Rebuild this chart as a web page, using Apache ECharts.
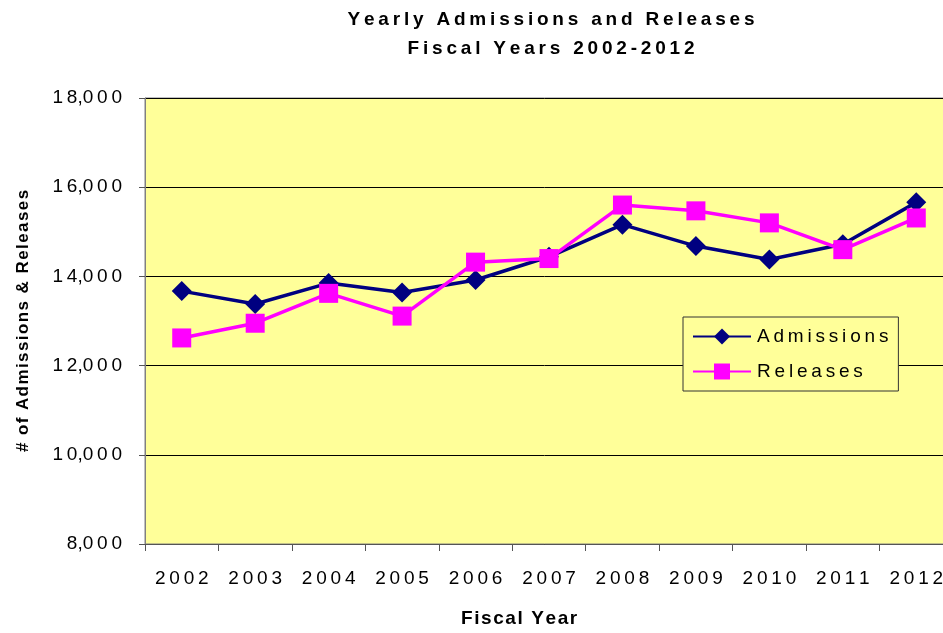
<!DOCTYPE html>
<html>
<head>
<meta charset="utf-8">
<title>Yearly Admissions and Releases</title>
<script src="https://cdn.jsdelivr.net/npm/echarts@6/dist/echarts.min.js"></script>
<style>
  html, body { margin: 0; padding: 0; background: #fff; }
  #chart { width: 943px; height: 633px; }
</style>
</head>
<body>
<div id="chart"></div>
<script>
// fiscal years on the x axis
const years = ['2002', '2003', '2004', '2005', '2006', '2007', '2008', '2009', '2010', '2011', '2012']

// values
const admissions = [13670, 13380, 13850, 13640, 13920, 14440, 15160, 14680, 14380, 14720, 15660]
const releases = [12620, 12950, 13620, 13110, 14320, 14400, 15600, 15470, 15200, 14600, 15310]

const font = 'Arial, "Liberation Sans", sans-serif'

// the original text is set wide, so put a thin space between letters
const THIN = '\u2009'
const HAIR = '\u200A'
const spaced = (s, sp) => s.split('').join(sp || THIN)

// 18,000 -> digits spaced, no extra gap around the comma
const fmtThousands = v => v.toLocaleString('en-US').split(',').map(p => spaced(p)).join(',')

const chart = echarts.init(document.getElementById('chart'))

chart.setOption({
  backgroundColor: '#ffffff',
  animation: false,
  textStyle: { fontFamily: font },
  title: {
    text: spaced('Yearly Admissions and Releases') + '\n' + spaced('Fiscal Years 2002-2012'),
    left: 546,
    top: 0,
    textAlign: 'center',
    textStyle: {
      fontFamily: font,
      fontSize: 19,
      fontWeight: 'bold',
      color: '#000',
      lineHeight: 29
    }
  },
  grid: {
    left: 145,
    width: 808,
    top: 98,
    bottom: 89,
    outerBoundsMode: 'none',
    show: true,
    backgroundColor: '#FFFF99',
    borderColor: '#808080',
    borderWidth: 1
  },
  legend: {
    orient: 'vertical',
    left: 683,
    top: 317,
    padding: [10, 10, 10, 9],
    itemGap: 16,
    itemWidth: 58,
    itemHeight: 20,
    backgroundColor: '#FFFF99',
    borderColor: '#333',
    borderWidth: 1,
    formatter: name => spaced(name),
    textStyle: { fontFamily: font, fontSize: 19, color: '#000', padding: [0, 0, 0, 1] },
    data: ['Admissions', 'Releases']
  },
  xAxis: {
    type: 'category',
    data: years,
    boundaryGap: true,
    axisLine: { lineStyle: { color: '#555', width: 1 } },
    axisTick: { show: true, length: 7, lineStyle: { color: '#555' } },
    axisLabel: {
      fontFamily: font,
      fontSize: 19,
      color: '#000',
      margin: 25,
      formatter: v => spaced(v)
    },
    splitLine: { show: false }
  },
  yAxis: {
    type: 'value',
    min: 8000,
    max: 18000,
    interval: 2000,
    name: spaced('# of Admissions & Releases', HAIR),
    nameLocation: 'middle',
    nameGap: 113,
    nameTextStyle: { fontFamily: font, fontSize: 17, fontWeight: 'bold', color: '#000' },
    axisLine: { show: true, lineStyle: { color: '#808080', width: 1 } },
    axisTick: { show: true, length: 6, lineStyle: { color: '#555' } },
    axisLabel: {
      fontFamily: font,
      fontSize: 19,
      color: '#000',
      margin: 23,
      formatter: fmtThousands
    },
    splitLine: { show: true, lineStyle: { color: '#000', width: 1 } }
  },
  graphic: [{
    type: 'text',
    left: 461,
    top: 609,
    style: {
      text: spaced('Fiscal Year', HAIR),
      font: 'bold 19px ' + font,
      fill: '#000'
    }
  }],
  series: [
    {
      name: 'Admissions',
      type: 'line',
      data: admissions,
      symbol: 'diamond',
      symbolSize: 20,
      lineStyle: { color: '#000080', width: 3.5 },
      itemStyle: { color: '#000080' },
      z: 2
    },
    {
      name: 'Releases',
      type: 'line',
      data: releases,
      symbol: 'rect',
      symbolSize: 19,
      lineStyle: { color: '#FF00FF', width: 3.5 },
      itemStyle: { color: '#FF00FF' },
      z: 3
    }
  ]
})
</script>
</body>
</html>
